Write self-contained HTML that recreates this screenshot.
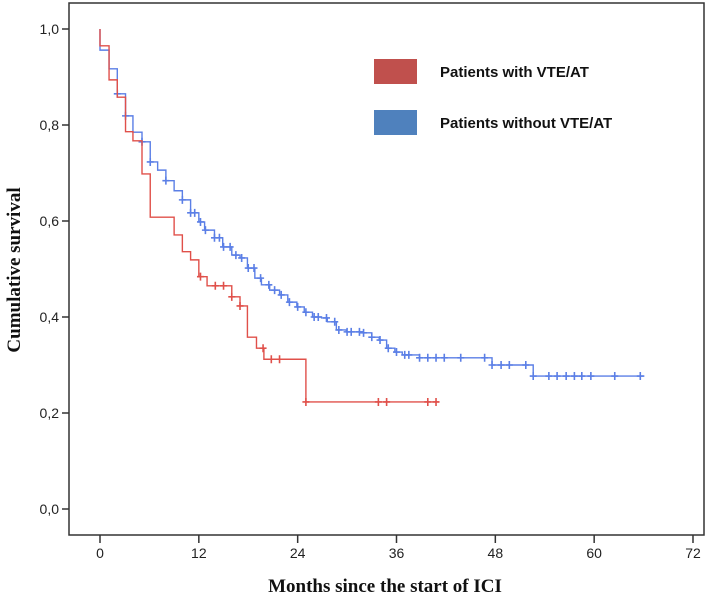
<!DOCTYPE html>
<html><head><meta charset="utf-8"><style>
body{margin:0;background:#fff;}
svg{display:block;}
.tk{font-family:"Liberation Sans",sans-serif;font-size:14px;fill:#222;}
.lg{font-family:"Liberation Sans",sans-serif;font-size:15px;font-weight:bold;fill:#111;}
.ti{font-family:"Liberation Serif",serif;font-size:19px;font-weight:bold;fill:#111;}
</style></head><body>
<svg id="chart" width="708" height="598">
<rect x="69" y="3" width="635" height="532" fill="#fff" stroke="#333" stroke-width="1.5"/>
<g id="axes"></g>
<g id="series"></g>
<rect x="374" y="59" width="43" height="25" fill="#c0504d"/>
<text x="440" y="77" class="lg">Patients with VTE/AT</text>
<rect x="374" y="110" width="43" height="25" fill="#4f81bd"/>
<text x="440" y="128" class="lg">Patients without VTE/AT</text>
<text x="385" y="592" text-anchor="middle" class="ti">Months since the start of ICI</text>
<text transform="translate(20,270) rotate(-90)" text-anchor="middle" class="ti">Cumulative survival</text>
</svg>
<script>
const xTicks=[0,12,24,36,48,60,72];
const yTicks=[0,0.2,0.4,0.6,0.8,1.0];
const yTickLabels=["0,0","0,2","0,4","0,6","0,8","1,0"];
const redTimes=[0,1.1,2.1,3.1,4.0,5.1,6.1,9.0,10.0,11.0,12.0,13.0,16.0,17.0,17.9,19.0,19.9,25.0];
const redSurv=[0.965,0.894,0.858,0.786,0.767,0.698,0.608,0.571,0.536,0.519,0.484,0.465,0.442,0.423,0.358,0.335,0.312,0.223];
const redEnd=41.2;
const redCensor=[12.2,14,15,16,17,19.8,20.8,21.8,25,33.8,34.8,39.8,40.8];
const blueTimes=[0,1.1,2.1,3.1,4.0,5.1,6.1,7.0,8.0,9.0,10.0,11.0,12.0,12.7,13.9,14.9,16.0,17.0,17.9,18.8,19.6,20.6,21.8,22.8,23.9,24.8,25.8,26.9,27.6,28.7,29.9,31.9,33.0,33.9,34.8,35.8,36.7,38.8,47.6,52.6];
const blueSurv=[0.956,0.917,0.865,0.819,0.785,0.765,0.723,0.706,0.684,0.663,0.644,0.617,0.598,0.581,0.565,0.546,0.529,0.523,0.502,0.481,0.467,0.456,0.446,0.431,0.421,0.410,0.400,0.398,0.390,0.373,0.369,0.367,0.358,0.352,0.335,0.327,0.321,0.315,0.300,0.277];
const blueEnd=66.1;
const blueCensor=[2.1,3.1,5.1,6.1,8,10,11,11.5,12.2,12.8,13.9,14.5,15,15.8,16.5,17.2,18,18.7,19.5,20.5,21.2,22,23,24,25,26,26.5,27.5,28.5,29,30,30.5,31.5,32,33,34,35,36,37,37.5,38.8,39.8,40.8,41.8,43.8,46.7,47.6,48.7,49.7,51.7,52.6,54.5,55.5,56.6,57.6,58.5,59.6,62.5,65.6];
const X=m=>100+m*8.236;
const Y=s=>509-s*480;
const NS="http://www.w3.org/2000/svg";
const ax=document.getElementById('axes');
function mk(tag,attrs,parent){const e=document.createElementNS(NS,tag);for(const k in attrs)e.setAttribute(k,attrs[k]);parent.appendChild(e);return e;}
xTicks.forEach(t=>{
 const l=mk('line',{x1:X(t),x2:X(t),y1:535,y2:543,stroke:'#333','stroke-width':1.5},ax);
 
 
 const tx=mk('text',{x:X(t),y:558,'text-anchor':'middle',class:'tk'},ax);tx.textContent=t;
 
 
});
yTicks.forEach((t,i)=>{
 const l=mk('line',{x1:62,x2:69,y1:Y(t),y2:Y(t),stroke:'#333','stroke-width':1.5},ax);
 
 
 const tx=mk('text',{x:59,y:Y(t)+5,'text-anchor':'end',class:'tk'},ax);tx.textContent=yTickLabels[i];
 
 
});
const sg=document.getElementById('series');
function survAt(times,surv,t){let s=1;for(let i=0;i<times.length;i++){if(times[i]<=t)s=surv[i];}return s;}
function draw(times,surv,end,cens,color,name){
 let d='M'+X(0)+','+Y(1);let s=1;
 for(let i=0;i<times.length;i++){d+=' H'+X(times[i])+' V'+Y(surv[i]);s=surv[i];}
 d+=' H'+X(end);
 const p=mk('path',{d:d,fill:'none',stroke:color,'stroke-width':1.4},sg);
 
 
 cens.forEach(c=>{
  const y=Y(survAt(times,surv,c)),x=X(c);
  const m=mk('path',{d:`M${x-3.5},${y} H${x+3.5} M${x},${y-4} V${y+4}`,stroke:color,'stroke-width':1.6},sg);
  
  
 });
}
draw(blueTimes,blueSurv,blueEnd,blueCensor,'#5b7fe6','without-vte');
draw(redTimes,redSurv,redEnd,redCensor,'#e0504a','with-vte');
</script>
</body></html>
